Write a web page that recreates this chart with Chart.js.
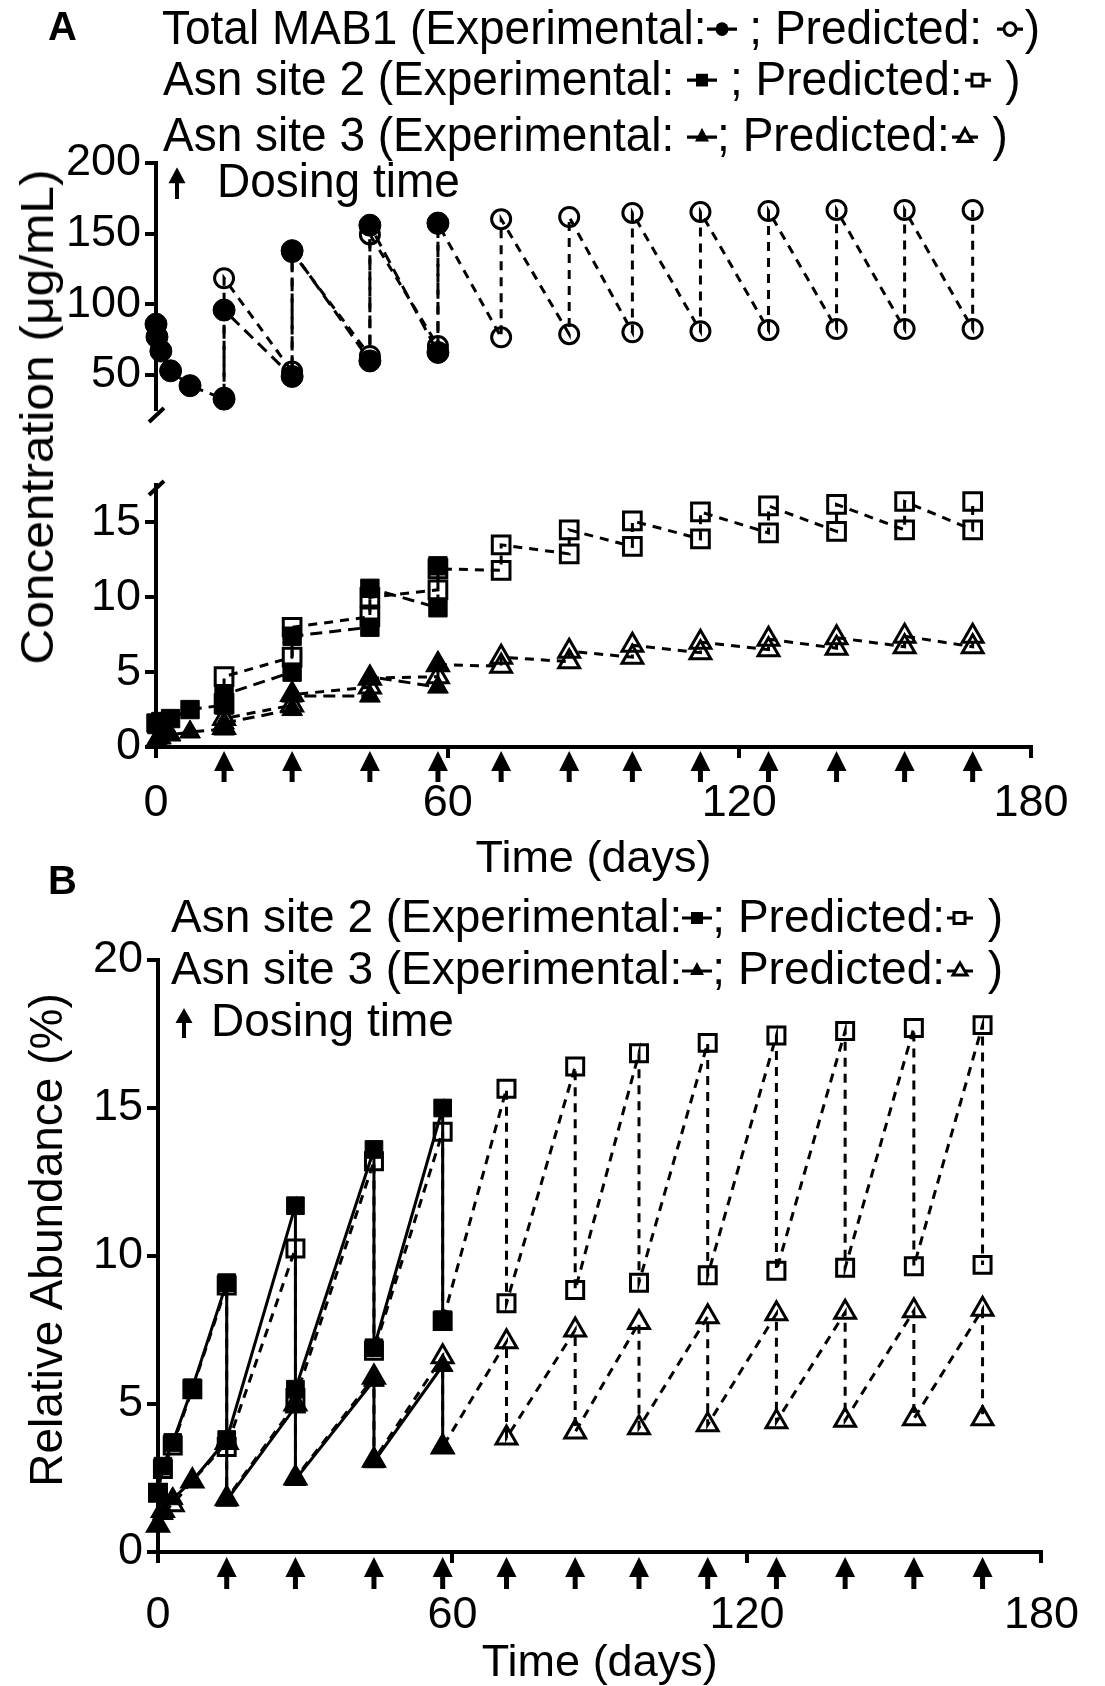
<!DOCTYPE html>
<html>
<head>
<meta charset="utf-8">
<script src="https://cdn.jsdelivr.net/npm/chart.js@4.4.1/dist/chart.umd.min.js"></script>
<style>
  html, body { margin: 0; padding: 0; background: #fff; }
  #page { position: relative; width: 1105px; height: 1686px; overflow: hidden;
          font-family: 'Liberation Sans', Arial, Helvetica, sans-serif; color: #000; }
  canvas { position: absolute; left: 0; }
  .txt { position: absolute; white-space: nowrap; font-size: 46px; line-height: 50px; }
  .tallA { transform: scaleY(1.06); transform-origin: left center; }
  .lbl { position: absolute; font-weight: bold; font-size: 40px; line-height: 40px; }
  .ytitle { position: absolute; white-space: nowrap; font-size: 46px; line-height: 50px; }
  svg.sym { vertical-align: 4px; }
  svg.arr { vertical-align: -2px; }
</style>
</head>
<body>
<div id="page">
  <canvas id="chartA1" width="1105" height="440" style="top:0"></canvas>
  <canvas id="chartA2" width="1105" height="442" style="top:440px"></canvas>
  <canvas id="chartB" width="1105" height="804" style="top:882px"></canvas>

  <div class="lbl" style="left:48px; top:6px">A</div>
  <div class="lbl" style="left:48px; top:860px">B</div>

  <!-- panel A legend -->
  <div class="txt tallA" style="left:162px; top:2px">Total MAB1 (Experimental:<svg class="sym" width="30" height="20"><line x1="0" y1="10" x2="30" y2="10" stroke="#000" stroke-width="3"/><circle cx="15" cy="10" r="6.5" fill="#000"/></svg> ; Predicted: <svg class="sym" width="30" height="20"><line x1="2" y1="10" x2="28" y2="10" stroke="#000" stroke-width="3"/><circle cx="15" cy="10" r="6" fill="#fff" stroke="#000" stroke-width="3"/></svg>)</div>
  <div class="txt tallA" style="left:163px; top:53px">Asn site 2 (Experimental: <svg class="sym" width="30" height="20"><line x1="0" y1="10" x2="30" y2="10" stroke="#000" stroke-width="3"/><rect x="9" y="4" width="12" height="12" fill="#000"/></svg> ; Predicted:<svg class="sym" width="30" height="20"><line x1="2" y1="10" x2="28" y2="10" stroke="#000" stroke-width="3"/><rect x="9" y="4.5" width="11" height="11" fill="#fff" stroke="#000" stroke-width="3"/></svg> )</div>
  <div class="txt tallA" style="left:163px; top:109px">Asn site 3 (Experimental: <svg class="sym" width="30" height="20"><line x1="0" y1="11" x2="30" y2="11" stroke="#000" stroke-width="3"/><polygon points="15,2 22,15 8,15" fill="#000"/></svg>; Predicted:<svg class="sym" width="30" height="20"><line x1="2" y1="11" x2="28" y2="11" stroke="#000" stroke-width="3"/><polygon points="15,3 22,15 8,15" fill="#fff" stroke="#000" stroke-width="3"/></svg> )</div>
  <div class="txt tallA" style="left:168px; top:155px"><svg class="arr" width="18" height="30" style="margin-right:31px"><polygon points="9,0 0.5,15 17.5,15" fill="#000"/><line x1="9" y1="10" x2="9" y2="30" stroke="#000" stroke-width="4"/></svg>Dosing time</div>

  <div class="ytitle" style="left:37px; top:417px; transform: translate(-50%,-50%) rotate(-90deg) scaleX(1.08)">Concentration (μg/mL)</div>

  <!-- panel B legend -->
  <div class="txt" style="left:171px; top:891px">Asn site 2 (Experimental:<svg class="sym" width="30" height="20"><line x1="0" y1="10" x2="30" y2="10" stroke="#000" stroke-width="3"/><rect x="9" y="4" width="12" height="12" fill="#000"/></svg>; Predicted:<svg class="sym" width="30" height="20"><line x1="2" y1="10" x2="28" y2="10" stroke="#000" stroke-width="3"/><rect x="9" y="4.5" width="11" height="11" fill="#fff" stroke="#000" stroke-width="3"/></svg> )</div>
  <div class="txt" style="left:171px; top:943px">Asn site 3 (Experimental:<svg class="sym" width="30" height="20"><line x1="0" y1="11" x2="30" y2="11" stroke="#000" stroke-width="3"/><polygon points="15,2 22,15 8,15" fill="#000"/></svg>; Predicted:<svg class="sym" width="30" height="20"><line x1="2" y1="11" x2="28" y2="11" stroke="#000" stroke-width="3"/><polygon points="15,3 22,15 8,15" fill="#fff" stroke="#000" stroke-width="3"/></svg> )</div>
  <div class="txt" style="left:175px; top:995px"><svg class="arr" width="18" height="30" style="margin-right:18px"><polygon points="9,0 0.5,15 17.5,15" fill="#000"/><line x1="9" y1="10" x2="9" y2="30" stroke="#000" stroke-width="4"/></svg>Dosing time</div>

  <div class="ytitle" style="left:46px; top:1240px; transform: translate(-50%,-50%) rotate(-90deg)">Relative Abundance (%)</div>
</div>

<script>
// ticks
const xTicks = [0, 60, 120, 180];
const totalTicks = [50, 100, 150, 200];
const asnConcTicks = [0, 5, 10, 15];
const abundanceTicks = [0, 5, 10, 15, 20];
const doseDays = [14, 28, 44, 58, 71, 85, 98, 112, 126, 140, 154, 168];

// panel A - total MAB1 (ug/mL)
const expTotalDays = [0, 0.2, 1, 3, 7, 14, 14, 28, 28, 44, 44, 58, 58];
const expTotalConc = [86, 77, 67, 53, 42.5, 33, 96, 49, 138, 60, 156, 66, 157.5];
const predDays = [14, 14, 28, 28, 44, 44, 58, 58, 71, 71, 85, 85, 98, 98, 112, 112, 126, 126, 140, 140, 154, 154, 168, 168];
const predTotalConc = [34, 118.5, 52.5, 137, 63.5, 149.5, 70.5, 157, 76.7, 160.3, 78.9, 161.8, 80.3, 164.7, 81, 165.4, 81.8, 166.1, 82.6, 166.8, 82.6, 166.8, 82.6, 166.8];

// panel A - Asn site 2 / site 3 (ug/mL)
const expAsnDays = [0, 0.2, 1, 3, 7, 14, 14, 28, 28, 44, 44, 58, 58];
const expAsn2Conc = [1.6, 1.5, 1.7, 1.9, 2.5, 2.8, 3.5, 5.0, 7.4, 8.0, 10.6, 9.3, 12.1];
const predAsn2Conc = [2.9, 4.7, 6.0, 8.0, 8.7, 10.0, 10.5, 11.9, 11.8, 13.5, 12.9, 14.5, 13.4, 15.1, 13.9, 15.7, 14.3, 16.1, 14.4, 16.2, 14.5, 16.4, 14.5, 16.4];
const expAsn3Conc = [0.4, 0.5, 0.6, 0.8, 1.0, 1.2, 1.6, 2.5, 3.4, 3.4, 4.7, 4.0, 5.6];
const predAsn3Conc = [1.3, 1.9, 2.8, 3.5, 4.0, 4.6, 4.7, 5.5, 5.4, 6.0, 5.7, 6.4, 6.0, 6.8, 6.3, 7.0, 6.5, 7.2, 6.6, 7.3, 6.7, 7.4, 6.7, 7.4];

// panel B - relative abundance (%)
const expAbnDays = [0, 1, 3, 7, 14, 14, 28, 28, 44, 44, 58, 58];
const expAbn2Pct = [2.0, 2.9, 3.7, 5.55, 9.1, 3.8, 11.7, 5.5, 13.6, 6.9, 15.0, 7.85];
const expAbn3Pct = [0.9, 1.3, 1.8, 2.4, 3.8, 1.75, 4.9, 2.45, 5.8, 3.05, 6.3, 3.6];
const predAbnDays = [0, 1, 3, 7, 14, 14, 28, 28, 44, 44, 58, 58, 71, 71, 85, 85, 98, 98, 112, 112, 126, 126, 140, 140, 154, 154, 168, 168];
const predAbn2Pct = [2.0, 2.8, 3.6, 5.5, 9.0, 3.55, 10.25, 5.2, 13.2, 6.8, 14.2, 7.8, 15.65, 8.4, 16.4, 8.85, 16.85, 9.1, 17.2, 9.35, 17.45, 9.5, 17.6, 9.6, 17.7, 9.65, 17.8, 9.7];
const predAbn3Pct = [0.9, 1.4, 1.6, 2.4, 3.7, 1.8, 5.0, 2.5, 5.9, 3.1, 6.6, 3.55, 7.1, 3.85, 7.5, 4.05, 7.75, 4.2, 7.95, 4.3, 8.05, 4.4, 8.1, 4.45, 8.15, 4.5, 8.2, 4.5];

const FONT = "'Liberation Sans', Arial, Helvetica, sans-serif";
Chart.defaults.font.family = FONT;
Chart.defaults.color = '#000';

const EXP_DASH_A = [12, 7];
const PRED_DASH = [9, 7];

function pts(days, vals) {
    return days.map((d, i) => ({ x: d, y: vals[i] }));
}

function series(days, vals, style, filled, dash, radius) {
    return {
        data: pts(days, vals),
        showLine: true,
        borderColor: '#000',
        borderWidth: 3,
        borderDash: dash,
        pointStyle: style,
        pointRadius: radius,
        pointHoverRadius: radius,
        pointBackgroundColor: filled ? '#000' : 'rgba(255,255,255,0)',
        pointBorderColor: '#000',
        pointBorderWidth: filled ? 1 : 3,
        clip: false
    };
}

// arrows under the x axis at each dosing day
const doseArrows = {
    id: 'doseArrows',
    afterDraw(chart, args, opts) {
        if (!opts.days) return;
        const { ctx } = chart;
        const xs = chart.scales.x;
        const y0 = chart.chartArea.bottom + opts.gap;
        ctx.save();
        ctx.fillStyle = '#000';
        ctx.strokeStyle = '#000';
        ctx.lineWidth = 5;
        opts.days.forEach(d => {
            const x = xs.getPixelForValue(d);
            ctx.beginPath();
            ctx.moveTo(x, y0);
            ctx.lineTo(x - 10, y0 + 20);
            ctx.lineTo(x + 10, y0 + 20);
            ctx.closePath();
            ctx.fill();
            ctx.beginPath();
            ctx.moveTo(x, y0 + 15);
            ctx.lineTo(x, y0 + opts.len);
            ctx.stroke();
        });
        ctx.restore();
    }
};

// small slash where the y axis is broken
const axisBreak = {
    id: 'axisBreak',
    afterDraw(chart, args, opts) {
        if (!opts.edge) return;
        const { ctx, chartArea } = chart;
        const x = chartArea.left;
        ctx.save();
        ctx.lineWidth = 4;
        ctx.strokeStyle = '#000';
        ctx.beginPath();
        if (opts.edge === 'bottom') {
            const y = chartArea.bottom;
            ctx.moveTo(x - 7, y + 13);
            ctx.lineTo(x + 8, y - 1);
        } else {
            const y = chartArea.top;
            ctx.moveTo(x - 7, y + 10);
            ctx.lineTo(x + 8, y - 4);
        }
        ctx.stroke();
        ctx.restore();
    }
};

function axisGrid() {
    return { display: true, drawOnChartArea: false, drawTicks: true, tickLength: 11,
             tickWidth: 4, tickColor: '#000', color: '#000', lineWidth: 4 };
}

function xScale(show, height, labelPad) {
    return {
        type: 'linear', min: 0, max: 180, display: show,
        afterBuildTicks: s => { s.ticks = xTicks.map(v => ({ value: v })); },
        afterFit: s => { s.height = height; },
        border: { display: true, color: '#000', width: 4 },
        grid: axisGrid(),
        ticks: { color: '#000', font: { size: 45 }, padding: labelPad, maxRotation: 0, autoSkip: false },
        title: { display: show, text: 'Time (days)', color: '#000', font: { size: 45, lineHeight: 1 }, padding: 0 }
    };
}

function yScale(min, max, tickList, width) {
    return {
        type: 'linear', min: min, max: max,
        afterBuildTicks: s => { s.ticks = tickList.map(v => ({ value: v })); },
        afterFit: s => { s.width = width; },
        border: { display: true, color: '#000', width: 4 },
        grid: axisGrid(),
        ticks: { color: '#000', font: { size: 45 }, padding: 4, autoSkip: false }
    };
}

const baseOptions = {
    responsive: false,
    animation: false,
    devicePixelRatio: 1,
    events: []
};

// Panel A, upper segment: total MAB1
new Chart(document.getElementById('chartA1'), {
    type: 'scatter',
    data: {
        datasets: [
            series(expTotalDays, expTotalConc, 'circle', true, EXP_DASH_A, 11),
            series(predDays, predTotalConc, 'circle', false, PRED_DASH, 9.5)
        ]
    },
    options: {
        ...baseOptions,
        layout: { padding: { left: 0, right: 74, top: 163, bottom: 23 } },
        scales: { x: xScale(false, 0, 0), y: yScale(26, 200, totalTicks, 156) },
        plugins: { legend: { display: false }, tooltip: { enabled: false },
                   axisBreak: { edge: 'bottom' } }
    },
    plugins: [axisBreak]
});

// Panel A, lower segment: Asn site 2 and 3
new Chart(document.getElementById('chartA2'), {
    type: 'scatter',
    data: {
        datasets: [
            series(expAsnDays, expAsn2Conc, 'rect', true, EXP_DASH_A, 13),
            series(expAsnDays, expAsn3Conc, 'triangle', true, EXP_DASH_A, 12),
            series(predDays, predAsn2Conc, 'rect', false, PRED_DASH, 12.5),
            series(predDays, predAsn3Conc, 'triangle', false, PRED_DASH, 12)
        ]
    },
    options: {
        ...baseOptions,
        layout: { padding: { left: 0, right: 74, top: 45, bottom: 0 } },
        scales: { x: xScale(true, 135, 19), y: yScale(0, 17.5, asnConcTicks, 156) },
        plugins: { legend: { display: false }, tooltip: { enabled: false },
                   axisBreak: { edge: 'top' },
                   doseArrows: { days: doseDays, gap: 4, len: 31 } }
    },
    plugins: [axisBreak, doseArrows]
});

// Panel B: relative abundance
new Chart(document.getElementById('chartB'), {
    type: 'scatter',
    data: {
        datasets: [
            series(expAbnDays, expAbn2Pct, 'rect', true, [], 12.5),
            series(expAbnDays, expAbn3Pct, 'triangle', true, [], 12),
            series(predAbnDays, predAbn2Pct, 'rect', false, PRED_DASH, 12),
            series(predAbnDays, predAbn3Pct, 'triangle', false, PRED_DASH, 12)
        ]
    },
    options: {
        ...baseOptions,
        layout: { padding: { left: 0, right: 51, top: 78, bottom: 0 } },
        scales: { x: xScale(true, 134, 26), y: yScale(0, 20, abundanceTicks, 158) },
        plugins: { legend: { display: false }, tooltip: { enabled: false },
                   doseArrows: { days: doseDays, gap: 5, len: 32 } }
    },
    plugins: [doseArrows]
});
</script>
</body>
</html>
